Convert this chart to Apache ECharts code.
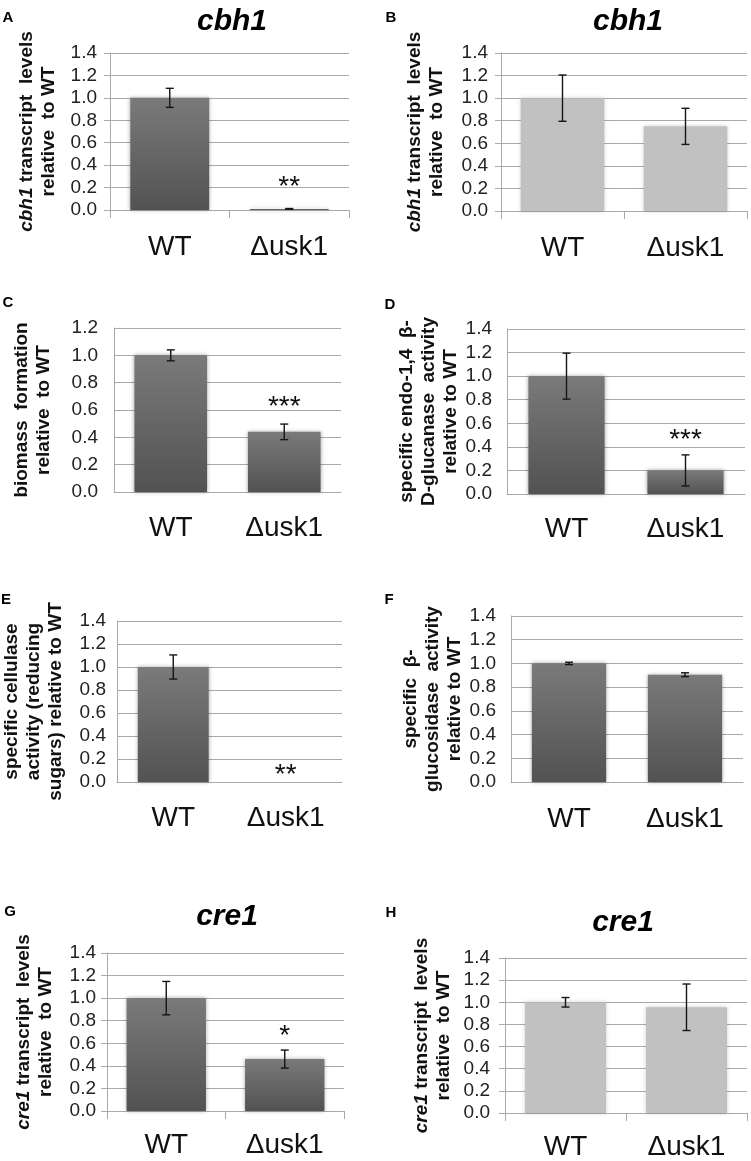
<!DOCTYPE html>
<html>
<head>
<meta charset="utf-8">
<script src="https://cdn.jsdelivr.net/npm/echarts@6/dist/echarts.min.js"></script>
<style>
html,body{margin:0;padding:0;background:#fff;}
#c{width:751px;height:1161px;}
</style>
</head>
<body>
<div id="c"></div>
<script>
// ---- data ----
const categories = ['WT', 'Δusk1'];
const yTicks14 = [0, 0.2, 0.4, 0.6, 0.8, 1.0, 1.2, 1.4];

const cbh1A = [1.0, 0.01];
const cbh1AErr = [0.085, 0.003];
const cbh1B = [1.0, 0.75];
const cbh1BErr = [0.205, 0.16];
const biomassC = [1.0, 0.44];
const biomassCErr = [0.04, 0.057];
const endoD = [1.0, 0.2];
const endoDErr = [0.195, 0.132];
const cellulaseE = [1.0, 0];
const cellulaseEErr = [0.105, 0];
const glucF = [1.0, 0.905];
const glucFErr = [0.01, 0.016];
const cre1G = [1.0, 0.46];
const cre1GErr = [0.148, 0.08];
const cre1H = [1.0, 0.955];
const cre1HErr = [0.043, 0.21];

// significance marks: [category, level, text]
const sigA = [['Δusk1', 0.205, '**']];
const sigC = [['Δusk1', 0.62, '***']];
const sigD = [['Δusk1', 0.46, '***']];
const sigE = [['Δusk1', 0.06, '**']];
const sigG = [['Δusk1', 0.66, '*']];

const FONT = "'Liberation Sans', Arial, Helvetica, sans-serif";
const GRID_COLOR = '#a9a9a9';

const panels = [
  {letter:'A', lx:8, ly:18, title:'cbh1', tx:232, ty:22, grid:{left:110, top:53, width:239, height:157}, max:1.4,
   vals:cbh1A, errs:cbh1AErr, light:false, ticks:true, name:'{i|cbh1} transcript  levels\nrelative  to WT', nameGap:50,
   labelMargin:13, xMargin:23, barWidth:'66%', sig:sigA},
  {letter:'B', lx:391, ly:18, title:'cbh1', tx:628, ty:22, grid:{left:501, top:53, width:246, height:158}, max:1.4,
   vals:cbh1B, errs:cbh1BErr, light:true, ticks:true, name:'{i|cbh1} transcript  levels\nrelative  to WT', nameGap:53,
   labelMargin:13, xMargin:23, barWidth:'68%', sig:[]},
  {letter:'C', lx:8, ly:303, grid:{left:114, top:328, width:227, height:164}, max:1.2,
   vals:biomassC, errs:biomassCErr, light:false, ticks:false, name:'biomass  formation\nrelative  to WT', nameGap:59,
   labelMargin:16, xMargin:22, barWidth:'64%', sig:sigC},
  {letter:'D', lx:390, ly:305, grid:{left:507, top:329, width:238, height:165}, max:1.4,
   vals:endoD, errs:endoDErr, light:false, ticks:false, name:'specific endo-1,4  β-\nD-glucanase  activity\nrelative to WT', nameGap:44,
   labelMargin:15, xMargin:21, barWidth:'64%', sig:sigD},
  {letter:'E', lx:6, ly:600, grid:{left:117, top:621, width:225, height:161}, max:1.4,
   vals:cellulaseE, errs:cellulaseEErr, light:false, ticks:false, name:'specific cellulase\nactivity (reducing\nsugars) relative to WT', nameGap:50,
   labelMargin:11, xMargin:22, barWidth:'63%', sig:sigE},
  {letter:'F', lx:389, ly:600, grid:{left:511, top:616, width:232, height:166}, max:1.4,
   vals:glucF, errs:glucFErr, light:false, ticks:false, name:'specific  β-\nglucosidase  activity\nrelative to WT', nameGap:44,
   labelMargin:15, xMargin:23, barWidth:'64%', sig:[]},
  {letter:'G', lx:10, ly:912, title:'cre1', tx:227, ty:917, grid:{left:107, top:953, width:237, height:158}, max:1.4,
   vals:cre1G, errs:cre1GErr, light:false, ticks:true, name:'{i|cre1} transcript  levels\nrelative  to WT', nameGap:50,
   labelMargin:11, xMargin:20, barWidth:'67%', sig:sigG},
  {letter:'H', lx:391, ly:913, title:'cre1', tx:623, ty:923, grid:{left:505, top:958, width:242, height:157}, max:1.4,
   vals:cre1H, errs:cre1HErr, light:true, ticks:true, name:'{i|cre1} transcript  levels\nrelative  to WT', nameGap:50,
   labelMargin:15, xMargin:20, barWidth:'67%', sig:[]}
];

const chart = echarts.init(document.getElementById('c'), null, {renderer:'canvas'});

const grids = [], xAxes = [], yAxes = [], series = [], graphics = [];

const darkFill = new echarts.graphic.LinearGradient(0, 0, 0, 1, [
  {offset:0, color:'#7a7a7a'}, {offset:1, color:'#525252'}
]);

panels.forEach((p, i) => {
  grids.push(Object.assign({containLabel:false}, p.grid));
  xAxes.push({
    type:'category', gridIndex:i, data:categories,
    axisLine:{show:true, lineStyle:{color:GRID_COLOR, width:1}},
    axisTick:{show:p.ticks, length:8, lineStyle:{color:GRID_COLOR}},
    axisLabel:{fontFamily:FONT, fontSize:28, color:'#111', margin:p.xMargin, interval:0}
  });
  yAxes.push({
    type:'value', gridIndex:i, min:0, max:p.max, interval:0.2,
    axisLine:{show:true, lineStyle:{color:GRID_COLOR, width:1}},
    axisTick:{show:p.ticks, length:6, lineStyle:{color:GRID_COLOR}},
    splitLine:{show:true, lineStyle:{color:GRID_COLOR, width:1}},
    axisLabel:{fontFamily:FONT, fontSize:19, color:'#222', margin:p.labelMargin,
      formatter:(v) => v.toFixed(1)},
    name:p.name, nameLocation:'middle', nameRotate:90, nameGap:p.nameGap,
    nameTextStyle:{fontFamily:FONT, fontSize:19, fontWeight:'bold', color:'#111', lineHeight:22, align:'center',
      rich:{i:{fontFamily:FONT, fontSize:19, fontWeight:'bold', fontStyle:'italic', color:'#111', lineHeight:22}}}
  });
  series.push({
    type:'bar', xAxisIndex:i, yAxisIndex:i, data:p.vals, barWidth:p.barWidth,
    itemStyle: p.light
      ? {color:'#c1c1c1', shadowBlur:4, shadowColor:'rgba(0,0,0,0.18)'}
      : {color:darkFill, shadowBlur:4, shadowColor:'rgba(0,0,0,0.35)'},
    silent:true, animation:false
  });
  series.push({
    type:'custom', xAxisIndex:i, yAxisIndex:i,
    data:p.vals.map((v, k) => [k, v, p.errs[k]]),
    renderItem:(params, api) => {
      const e = api.value(2);
      if (!e) return null;
      const x = api.value(0), v = api.value(1);
      const top = api.coord([x, v + e]);
      const bot = api.coord([x, v - e]);
      const cw = 4;
      const st = {stroke:'#151515', lineWidth:1.4};
      return {type:'group', children:[
        {type:'line', shape:{x1:top[0], y1:top[1], x2:bot[0], y2:bot[1]}, style:st},
        {type:'line', shape:{x1:top[0]-cw, y1:top[1], x2:top[0]+cw, y2:top[1]}, style:st},
        {type:'line', shape:{x1:bot[0]-cw, y1:bot[1], x2:bot[0]+cw, y2:bot[1]}, style:st}
      ]};
    },
    silent:true, animation:false, z:5
  });
  if (p.sig.length) {
    series.push({
      type:'custom', xAxisIndex:i, yAxisIndex:i, data:p.sig,
      renderItem:(params, api) => {
        const pt = api.coord([api.value(0), api.value(1)]);
        return {type:'text', x:pt[0], y:pt[1],
          style:{text:p.sig[params.dataIndex][2], font:'28px ' + FONT, fill:'#111', align:'center', verticalAlign:'middle'}};
      },
      silent:true, animation:false, z:6
    });
  }
  graphics.push({type:'text', x:p.lx, y:p.ly,
    style:{text:p.letter, font:'bold 15px ' + FONT, fill:'#000', align:'center', verticalAlign:'middle'}});
  if (p.title) {
    graphics.push({type:'text', x:p.tx, y:p.ty,
      style:{text:p.title, font:'italic bold 30px ' + FONT, fill:'#000', align:'center', verticalAlign:'middle'}});
  }
});

chart.setOption({
  animation:false,
  backgroundColor:'#ffffff',
  grid:grids, xAxis:xAxes, yAxis:yAxes, series:series, graphic:graphics
});
</script>
</body>
</html>
